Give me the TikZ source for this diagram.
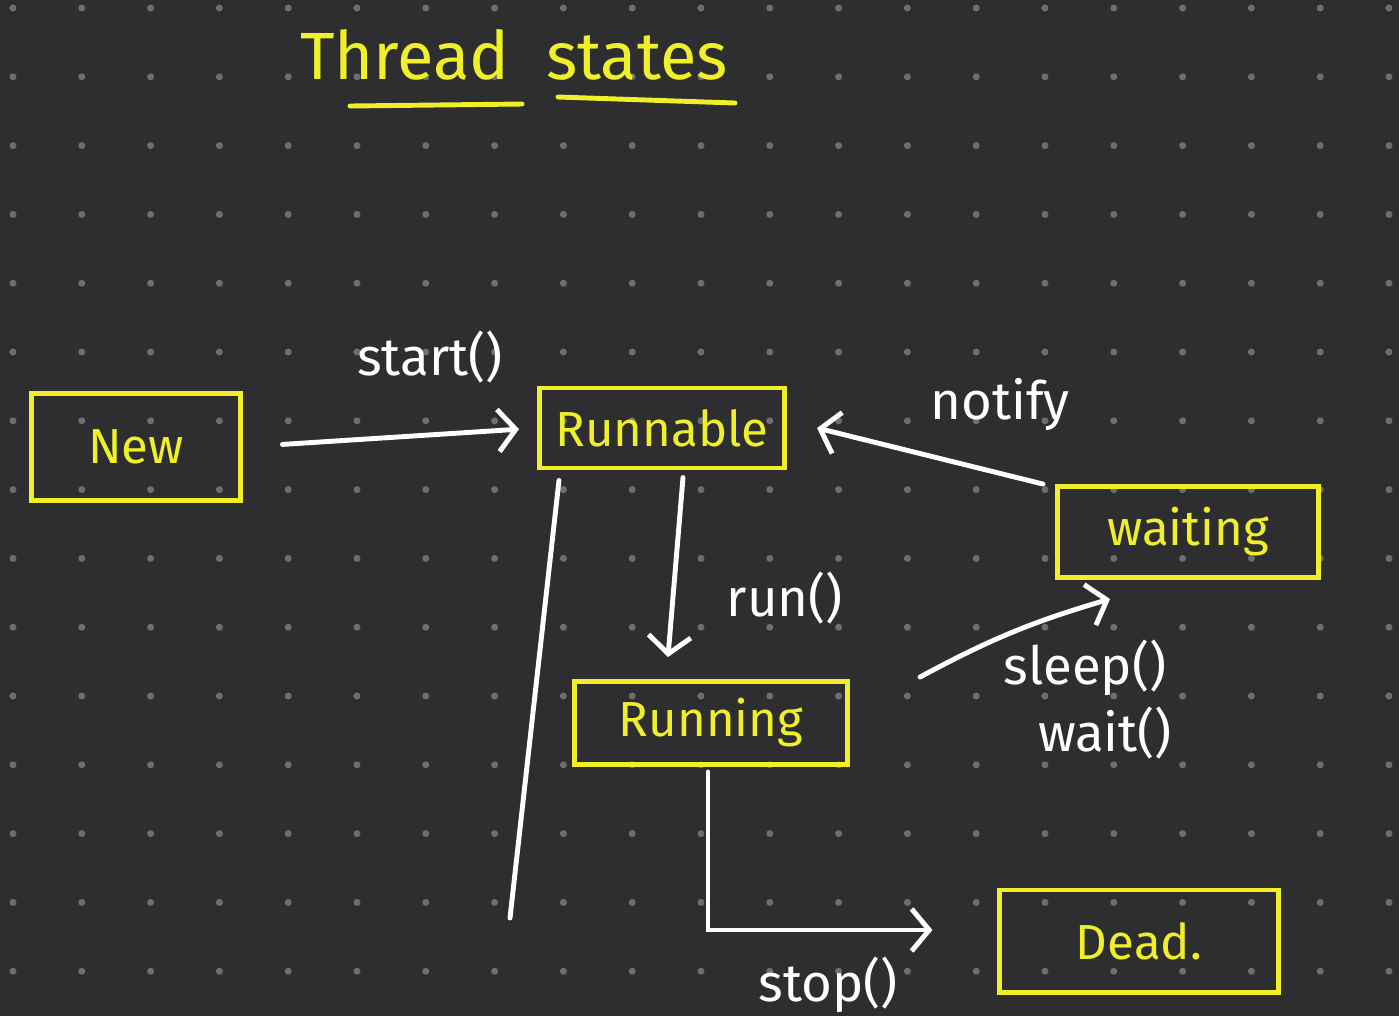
\documentclass[tikz,border=0pt]{standalone}
\usepackage{fontspec}
\setmainfont{Fira Sans}
\usetikzlibrary{arrows.meta}
\definecolor{board}{HTML}{2E2E31}
\definecolor{pen}{HTML}{F0F02A}
\definecolor{griddot}{HTML}{6E6E71}
\begin{document}
\begin{tikzpicture}[x=0.01cm,y=-0.01cm,
  state/.style={draw=pen,line width=1.4pt,text=pen,font=\fontsize{14}{17}\selectfont,inner sep=0pt},
  move/.style={draw=white,line width=1.4pt,line cap=round,-{Straight Barb[length=5pt,width=12pt,line width=1.4pt]}},
  lbl/.style={text=white,font=\fontsize{15}{18}\selectfont}]
\fill[board] (0,0) rectangle (1399,1016);
\foreach \i in {0,...,20}
  \foreach \j in {0,...,14}
    \fill[griddot] (13+68.8*\i,8+68.8*\j) circle (1pt);

% title
\node[text=pen,font=\fontsize{19}{22}\selectfont] (thread) at (405,55) {Thread};
\node[text=pen,font=\fontsize{19}{22}\selectfont] (states) at (637,58) {states};
\draw[pen,line width=1.4pt,line cap=round] (350,106) -- (522,104);
\draw[pen,line width=1.4pt,line cap=round] (558,97) -- (735,103);

% states
\node[state,minimum width=2.08cm,minimum height=1.07cm] (new) at (136,447) {New};
\node[state,minimum width=2.45cm,minimum height=0.80cm] (runnable) at (662,428) {Runnable};
\node[state,minimum width=2.61cm,minimum height=0.91cm] (waiting) at (1188,532) {waiting};
\node[state,minimum width=2.73cm,minimum height=0.83cm] (running) at (711,723) {Running};
\node[state,minimum width=2.78cm,minimum height=1.02cm] (dead) at (1139,941) {Dead.};
\coordinate (tailend) at (510,918);

% transitions
\draw[move,shorten <=0.4cm,shorten >=0.18cm] (new.east) -- (runnable.west);
\node[lbl] (startlbl) at (430,357) {start()};
\draw[move] ([xshift=0.21cm,yshift=-0.07cm]runnable.south) -- ([xshift=-0.43cm,yshift=0.22cm]running.north);
\node[lbl] (runlbl) at (785,598) {run()};
\draw[move] ([xshift=-0.12cm]waiting.north west) -- ([xshift=0.3cm]runnable.east);
\node[lbl] (notifylbl) at (1000,405) {notify};
\draw[move] ([xshift=0.7cm,yshift=0.02cm]running.north east) to[bend left=6] ([xshift=0.55cm,yshift=-0.19cm]waiting.south west);
\node[lbl] (sleeplbl) at (1085,668) {sleep()};
\node[lbl] (waitlbl) at (1105,733) {wait()};
\draw[move] ([xshift=-0.03cm,yshift=-0.05cm]running.south) |- ([xshift=-0.65cm,yshift=0.11cm]dead.west);
\node[lbl] (stoplbl) at (828,985) {stop()};
\draw[white,line width=1.4pt,line cap=round] ([xshift=0.22cm,yshift=-0.1cm]runnable.south west) -- (tailend);
\end{tikzpicture}
\end{document}
